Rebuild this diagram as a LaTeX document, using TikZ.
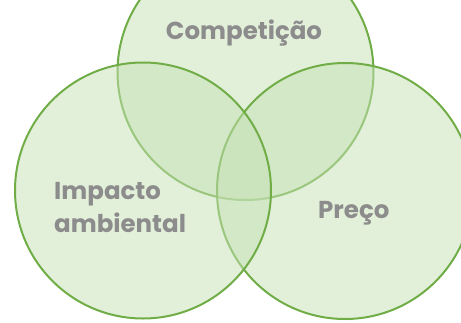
\documentclass[tikz,border=0pt]{standalone}
\usepackage{fontspec}
\setmainfont{Poppins}
\definecolor{vgreen}{RGB}{112,173,71}
\definecolor{vfill}{RGB}{197,224,180}
\definecolor{vtext}{RGB}{140,140,140}
\begin{document}
\begin{tikzpicture}[x=1pt,y=1pt,
  venn/.style={circle,draw=vgreen,line width=2pt,fill=vfill,fill opacity=0.5,minimum size=256pt,inner sep=0pt},
  lbl/.style={text=vtext,font=\bfseries\fontsize{24.5}{33}\selectfont,inner sep=0pt,text opacity=1}]
\useasboundingbox (0,0) rectangle (461,-322);
\clip (0,0) rectangle (461,-322);
\node[venn] (top) at (245.5,-72) {};
\node[venn] (right) at (345,-191) {};
\node[venn] (left) at (143,-190.5) {};
\node[lbl,anchor=base] (tc) at (244,-39) {Competição};
\node[lbl,anchor=base west] (ti) at (54,-199) {Impacto};
\node[lbl,anchor=base west] (ta) at (54,-232) {ambiental};
\node[lbl,anchor=base west] (tp) at (318,-218) {Preço};
\end{tikzpicture}
\end{document}
